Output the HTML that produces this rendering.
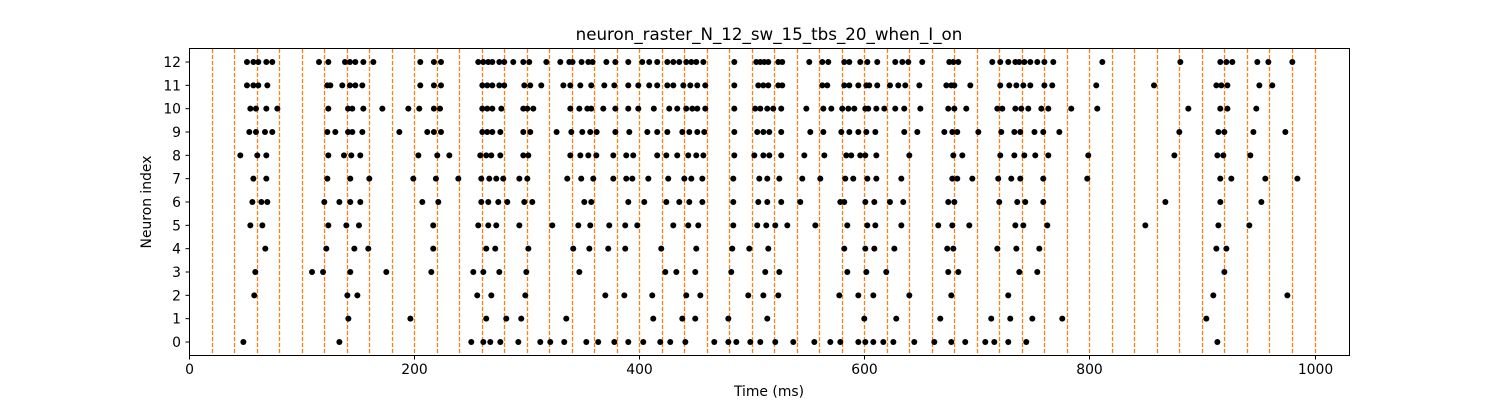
<!DOCTYPE html>
<html><head><meta charset="utf-8">
<style>
html,body{margin:0;padding:0;background:#fff;}
svg{display:block;font-family:"DejaVu Sans","Liberation Sans",sans-serif;}
</style></head>
<body>
<svg id="chart" width="1500" height="400" viewBox="0 0 1500 400" xmlns="http://www.w3.org/2000/svg">
<rect x="0" y="0" width="1500" height="400" fill="#fff"/>
<text x="769" y="40" font-size="16.7" text-anchor="middle" fill="#000">neuron_raster_N_12_sw_15_tbs_20_when_I_on</text>
<g id="grid"></g>
<g id="dots"></g>
<rect x="189.5" y="48.5" width="1160" height="307" fill="none" stroke="#000" stroke-width="1"/>
<g id="axes"></g>
<text x="769" y="396" font-size="13.9" text-anchor="middle">Time (ms)</text>
<text transform="translate(151,202) rotate(-90)" font-size="13.9" text-anchor="middle">Neuron index</text>
</svg>
<script>
const neuronIds=[0,1,2,3,4,5,6,7,8,9,10,11,12];
const xTicks=[0,200,400,600,800,1000];
const yTicks=[0,1,2,3,4,5,6,7,8,9,10,11,12];
const windowLines=[20,40,60,80,100,120,140,160,180,200,220,240,260,280,300,320,340,360,380,400,420,440,460,480,500,520,540,560,580,600,620,640,660,680,700,720,740,760,780,800,820,840,860,880,900,920,940,960,980,1000];
const spikes0=[48.3,133.6,250.8,261.5,267.7,276.6,292.6,312.1,321,333.4,353,363.6,377.9,390.3,403.6,418.7,427.6,441,466.7,479.2,486.3,498.7,507.6,520.9,536.9,555.6,569.8,578.7,594.7,600.9,608,616.9,625.8,644.4,662.2,677.3,689.7,707.5,715.5,727.9,743.9,913.7];
const spikes1=[141.6,196.7,264.1,281.9,295.2,335.2,412.5,438.3,449.8,479.2,513.8,600,628.4,667.5,712.8,729.7,749.3,775.9,903.9];
const spikes2=[58,140.7,149.6,256.1,268.6,298.8,369.9,386.8,411.6,441.8,454.3,496.9,510.3,523.6,577.8,594.7,608,640,677.3,727.9,910.1,975.9];
const spikes3=[58.9,109.3,119.1,143.3,175.3,215.3,252.6,261.5,275.7,299.7,346.8,423.2,433,449.8,481.8,512,524.5,584.9,601.8,619.5,674.6,683.5,737.7,753.7,919.9];
const spikes4=[67.8,122,146.9,159.3,217,264.1,272.1,301.5,341.4,355.7,372.5,387.6,419.6,450.7,482.7,497.8,514.7,582.2,600.9,608.9,626.7,673.7,679.1,718.2,735.1,755.5,912.8,921.7];
const spikes5=[54.5,65.2,123.8,139.8,151,217,257,265.9,273,293.5,322.8,345.9,356.5,373.4,387.6,398.3,430.3,443.6,452.5,483.6,504.9,512.9,520.9,531.6,556.5,584.9,602.7,609.8,632.9,665.7,678.2,693.3,734.2,741.3,762.6,849.7,914.6,942.1];
const spikes6=[56.3,64.3,69.6,120.2,133.6,143.3,152.2,207.3,221.5,259.7,265.9,274.8,282.8,297.9,305,351.2,357.4,390.3,404.5,424.1,435.6,444.5,456.1,483.6,505.8,513.8,526.2,543.1,578.7,582.2,600.9,608.9,622.8,634.6,674.6,680,719.9,735.9,743,759,867.5,916.3,952.8];
const spikes7=[57.2,68.7,122.9,143.3,160.2,199.3,219.4,239.3,259.7,266.8,273,279.2,293.5,300.6,336.1,348.5,359.2,377,388.5,393.9,408.1,425.8,440.1,446.3,456.1,483.6,506.7,513.8,524.5,544.9,560.9,583.1,590.2,602.7,610.7,632.9,678.2,682.6,696,719,730.6,738.6,759,798.1,916.3,926.1,956.3,984.8];
const spikes8=[45.6,60.7,68.7,123.8,137.7,144.2,152.2,203.8,220.6,231.3,258.8,264.1,268.6,276.6,297,301.5,338.8,347.7,354.8,361.9,377,388.5,394.7,416,424.1,433.8,443.6,450.7,457,484.5,502.3,510.3,515.6,526.2,546.7,564.5,584,588.4,596.4,600.9,610.7,640,679.1,687.1,720.8,733.3,742.2,751.9,763.5,799,875.5,913.7,919,943];
const spikes9=[53.6,59.5,67.5,74,122.9,130,141.3,145.1,154,186.9,211.7,217.6,223.9,260.6,265,269.5,276.6,297,303.2,326.6,339.7,349.4,356.5,362.2,378.8,391.2,407.2,416,425,438.3,444.5,451.6,457.8,484.5,504.9,510.3,515.6,526.2,552,563.6,579.6,586.7,594.7,601.8,609.8,635.5,647.1,671.1,678.2,682.6,701.3,721.7,733.3,738.6,751.2,759,773.3,879.9,914.6,919.9,945.7,974.1];
const spikes10=[54.5,59.5,68.7,78.5,123.8,141.3,145.1,154.9,171.8,194.9,204.6,217.6,223,260.6,265,269.5,277.5,297,300.6,305.9,338.8,346.8,353.9,357.4,368.1,378.8,390.3,399.2,413,426.7,433.8,441.8,447.2,451.6,458.7,484.5,503.1,507.6,513.8,519.1,526.2,548.5,563.6,570.7,580.4,585.8,591.1,600.9,603.5,610.7,617.8,627.5,635.5,649.8,674.6,680,690.6,718.2,722.6,734.2,739.5,745.7,757.3,763.5,783.9,807,887.9,916.3,922.6,948.3];
const spikes11=[51.5,57.2,61.6,69.6,122.9,125.6,136.2,143,147.8,154,205.5,217.6,223.9,260.6,265,269.5,275.7,280.1,297.9,303.2,313,332.6,338.8,347.7,357.4,369,377.9,390.3,399.2,408.9,416,425,430.3,439.2,445.4,451.6,458.7,484.5,505.8,510.3,514.7,523.6,527.1,562.7,567.1,582.2,586.7,594.7,601.8,604.4,611.5,622.8,630.2,636.4,648.9,672.9,677.3,680,694.2,720.8,728.8,735.1,741.3,747.5,760,767,806.1,857.4,912.8,917.2,922.6,951,962.5];
const spikes12=[51.5,57.2,61.6,68.7,74,115.5,123.8,138.6,143,147.8,154.9,163.8,205.5,217.6,223.9,257,261.5,265.9,269.5,275.7,280.1,288.1,297,302.3,317.5,329.9,337.9,340.8,348.8,354.8,358.6,370.8,378.8,390.3,402.7,408.9,416,425,430.3,435.6,441.8,446.3,450.7,457,484.5,504,507.6,511.1,514.7,523.6,527.1,551.1,562.7,568,582.2,586.7,596.4,602.7,611.5,627.5,633.8,639.1,651.5,675.5,679.1,683.5,713.7,720.8,727.9,734.2,737.7,742.2,747.5,753.7,760,767.9,811.5,880.8,916.3,921.7,927,949.2,959,980.3];
const allSpikes=[spikes0,spikes1,spikes2,spikes3,spikes4,spikes5,spikes6,spikes7,spikes8,spikes9,spikes10,spikes11,spikes12];

const NS='http://www.w3.org/2000/svg';
function xScale(t){return 189+t*1.1255;}
function yScale(n){return 342-n*23.333;}
function mk(tag,attrs){const e=document.createElementNS(NS,tag);for(const k in attrs)e.setAttribute(k,attrs[k]);return e;}

const grid=document.getElementById('grid');
windowLines.forEach(v=>{
  const x=Math.round(xScale(v))+0.5;
  const l=mk('line',{x1:x,x2:x,y1:49,y2:355,stroke:'#ff7f0e','stroke-width':1.3,'stroke-dasharray':'4,2'});
  
  
  grid.appendChild(l);
});

const dots=document.getElementById('dots');
neuronIds.forEach((n,i)=>{
  allSpikes[i].forEach(t=>{
    const c=mk('circle',{cx:xScale(t),cy:yScale(n),r:3,fill:'#000'});
    
    
    dots.appendChild(c);
  });
});

const axes=document.getElementById('axes');
xTicks.forEach(v=>{
  const x=Math.round(xScale(v))+0.5;
  const t=mk('line',{x1:x,x2:x,y1:356,y2:359.5,stroke:'#000','stroke-width':1});
  
  
  axes.appendChild(t);
  const lb=mk('text',{x:x,y:374,'font-size':13.9,'text-anchor':'middle'});
  lb.textContent=v;
  
  
  axes.appendChild(lb);
});
yTicks.forEach(v=>{
  const y=yScale(v);
  const t=mk('line',{x1:185.5,x2:189,y1:y,y2:y,stroke:'#000','stroke-width':1});
  
  
  axes.appendChild(t);
  const lb=mk('text',{x:181,y:y+5,'font-size':13.9,'text-anchor':'end'});
  lb.textContent=v;
  
  
  axes.appendChild(lb);
});
</script>
</body></html>
